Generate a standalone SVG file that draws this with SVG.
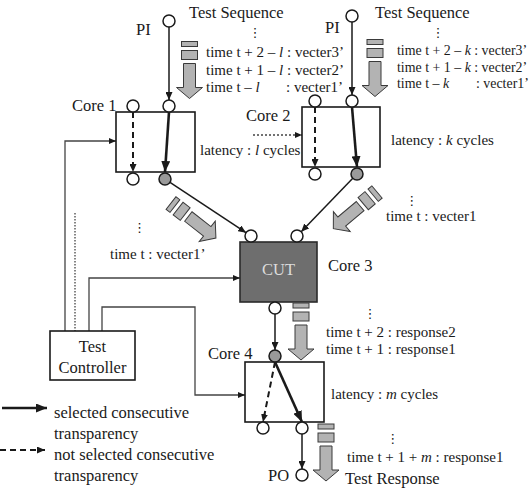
<svg xmlns="http://www.w3.org/2000/svg" xmlns:xlink="http://www.w3.org/1999/xlink" width="530" height="492" viewBox="0 0 530 492">
<style>
text{font-family:"Liberation Serif","Times New Roman",serif;fill:#1a1a1a}
.lb{font-size:16.5px}
.tm{font-size:15px}
.tm2{font-size:13.9px}
.dots{font-family:"DejaVu Sans",sans-serif;font-size:13px;text-anchor:middle}
.box{fill:#fff;stroke:#1a1a1a;stroke-width:1.6}
.port{fill:#fff;stroke:#1a1a1a;stroke-width:1.5}
.gport{fill:#9a9a9a;stroke:#1a1a1a;stroke-width:1.5}
.wire{fill:none;stroke:#1a1a1a;stroke-width:1.5}
.sel{fill:none;stroke:#1a1a1a;stroke-width:2.6}
.nsel{fill:none;stroke:#1a1a1a;stroke-width:2;stroke-dasharray:6 4}
.ctl{fill:none;stroke:#444;stroke-width:1.3}
.sa{fill:#b3b3b3;stroke:#3a3a3a;stroke-width:1}
</style>
<defs>
<marker id="ah" viewBox="0 0 8 7" refX="8" refY="3.5" markerWidth="8" markerHeight="7" markerUnits="userSpaceOnUse" orient="auto"><path d="M0,0 L8,3.5 L0,7 z" fill="#1a1a1a"/></marker>
<marker id="ahb" viewBox="0 0 11 9" refX="11" refY="4.5" markerWidth="11" markerHeight="9" markerUnits="userSpaceOnUse" orient="auto"><path d="M0,0 L11,4.5 L0,9 z" fill="#1a1a1a"/></marker>
<marker id="ahs" viewBox="0 0 7 6" refX="7" refY="3" markerWidth="7" markerHeight="6" markerUnits="userSpaceOnUse" orient="auto"><path d="M0,0 L7,3 L0,6 z" fill="#1a1a1a"/></marker>
<g id="sa">
<rect class="sa" x="-8" y="0" width="16" height="5"/>
<rect class="sa" x="-8" y="9" width="16" height="9"/>
<polygon class="sa" points="-6,22 6,22 6,46 13,46 0,57 -13,46 -6,46"/>
</g>
</defs>

<g id="connectors">
<line class="wire" x1="169" y1="27" x2="169" y2="100" marker-end="url(#ah)"/>
<line class="wire" x1="352" y1="22" x2="352" y2="95" marker-end="url(#ah)"/>
<line class="wire" x1="170" y1="182.3" x2="246" y2="232.7" marker-end="url(#ah)"/>
<line class="wire" x1="352.8" y1="178.3" x2="301.2" y2="231.7" marker-end="url(#ah)"/>
<line class="wire" x1="275" y1="314" x2="275" y2="350" marker-end="url(#ah)"/>
<line class="wire" x1="302" y1="434" x2="302" y2="469" marker-end="url(#ah)"/>
<polyline class="ctl" points="65,331 65,141 116,141" marker-end="url(#ahs)"/>
<line class="ctl" x1="75" y1="213" x2="75" y2="331" stroke-dasharray="1.5 1.5"/>
<polyline class="ctl" points="89,331 89,278 240,278" marker-end="url(#ahs)"/>
<polyline class="ctl" points="102,331 102,307 195,307 195,395 245,395" marker-end="url(#ahs)"/>
<line class="ctl" x1="253" y1="135" x2="302" y2="135" stroke-dasharray="2 2" marker-end="url(#ahs)"/>
</g>

<g id="pi1"><circle class="port" cx="169" cy="21" r="6"/><text class="lb" x="136" y="35">PI</text></g>
<g id="pi2"><circle class="port" cx="352" cy="16" r="6"/><text class="lb" x="325" y="33">PI</text></g>

<g id="core1">
<rect class="box" x="116" y="112" width="79" height="60"/>
<circle class="port" cx="133" cy="106" r="6"/>
<circle class="port" cx="169" cy="106" r="6"/>
<circle class="port" cx="133" cy="179" r="6"/>
<circle class="gport" cx="165" cy="179" r="6"/>
<line class="nsel" x1="133" y1="112" x2="133" y2="172" marker-end="url(#ah)"/>
<line class="sel" x1="169" y1="112" x2="165" y2="172" marker-end="url(#ahb)"/>
<text class="lb" x="72" y="111">Core 1</text>
<text class="tm" x="200" y="155">latency : <tspan font-style="italic">l</tspan> cycles</text>
</g>

<g id="core2">
<rect class="box" x="302" y="107" width="78" height="60"/>
<circle class="port" cx="315" cy="101" r="6"/>
<circle class="port" cx="352" cy="101" r="6"/>
<circle class="port" cx="315" cy="174" r="6"/>
<circle class="gport" cx="357" cy="174" r="6"/>
<line class="nsel" x1="315" y1="107" x2="315" y2="167" marker-end="url(#ah)"/>
<line class="sel" x1="352" y1="107" x2="357" y2="167" marker-end="url(#ahb)"/>
<text class="lb" x="246" y="121">Core 2</text>
<text class="tm" x="391" y="145">latency : <tspan font-style="italic">k</tspan> cycles</text>
</g>

<g id="cut">
<rect x="240" y="242" width="77" height="60" fill="#6e6e6e" stroke="#2a2a2a" stroke-width="1.6"/>
<circle class="port" cx="251" cy="236" r="6"/>
<circle class="port" cx="297" cy="236" r="6"/>
<circle class="port" cx="275" cy="308" r="6"/>
<text class="lb" x="278.5" y="275" text-anchor="middle" style="fill:#dcdcdc">CUT</text>
<text class="lb" x="328" y="271">Core 3</text>
</g>

<g id="core4">
<rect class="box" x="245" y="362" width="79" height="60"/>
<circle class="gport" cx="275" cy="356" r="6"/>
<circle class="port" cx="263" cy="428" r="6"/>
<circle class="port" cx="302" cy="428" r="6"/>
<line class="nsel" x1="275" y1="362" x2="263" y2="422" marker-end="url(#ah)"/>
<line class="sel" x1="275" y1="362" x2="302" y2="422" marker-end="url(#ahb)"/>
<text class="lb" x="208" y="359">Core 4</text>
<text class="tm" x="331" y="399">latency : <tspan font-style="italic">m</tspan> cycles</text>
</g>

<g id="po"><circle class="port" cx="302" cy="475" r="6"/><text class="lb" x="268" y="481">PO</text></g>

<g id="controller">
<rect class="box" x="50" y="331" width="85" height="49"/>
<text class="lb" x="92.5" y="352" text-anchor="middle">Test</text>
<text class="lb" x="92.5" y="373" text-anchor="middle">Controller</text>
</g>

<g id="seq1">
<text class="lb" x="189" y="18">Test Sequence</text>
<text class="dots" x="255" y="37">⋮</text>
<use xlink:href="#sa" href="#sa" transform="translate(189.5,41.5)"/>
<text class="tm" x="206" y="57">time t + 2 – <tspan font-style="italic">l</tspan> : vecter3’</text>
<text class="tm" x="206" y="74.5">time t + 1 – <tspan font-style="italic">l</tspan> : vecter2’</text>
<text class="tm" x="206" y="92">time t – <tspan font-style="italic">l</tspan></text>
<text class="tm" x="286" y="92">: vecter1’</text>
</g>

<g id="seq2">
<text class="lb" x="375" y="18">Test Sequence</text>
<text class="dots" x="438" y="37">⋮</text>
<use xlink:href="#sa" href="#sa" transform="translate(375,39.5)"/>
<text class="tm2" x="397" y="55">time t + 2 – <tspan font-style="italic">k</tspan> : vecter3’</text>
<text class="tm2" x="397" y="71.5">time t + 1 – <tspan font-style="italic">k</tspan> : vecter2’</text>
<text class="tm2" x="397" y="88">time t – <tspan font-style="italic">k</tspan></text>
<text class="tm2" x="476" y="88">: vecter1’</text>
</g>

<g id="flow1">
<use xlink:href="#sa" href="#sa" transform="translate(171,203) rotate(-52)"/>
<text class="dots" x="139.5" y="232">⋮</text>
<text class="tm" x="110" y="259">time t : vecter1’</text>
</g>

<g id="flow2">
<use xlink:href="#sa" href="#sa" transform="translate(377,192) rotate(50)"/>
<text class="dots" x="411.7" y="205">⋮</text>
<text class="tm" x="386" y="221">time t : vecter1</text>
</g>

<g id="flow3">
<use xlink:href="#sa" href="#sa" transform="translate(301,303)"/>
<text class="dots" x="370" y="318">⋮</text>
<text class="tm" x="326" y="337">time t + 2 : response2</text>
<text class="tm" x="326" y="354">time t + 1 : response1</text>
</g>

<g id="flow4">
<use xlink:href="#sa" href="#sa" transform="translate(326,424)"/>
<text class="dots" x="392.7" y="443">⋮</text>
<text class="tm" x="347" y="462">time t + 1 + <tspan font-style="italic">m</tspan> : response1</text>
<text class="lb" x="345" y="484">Test Response</text>
</g>

<g id="legend">
<line class="sel" x1="2" y1="408" x2="47" y2="408" stroke-width="3" marker-end="url(#ahb)"/>
<text class="lb" x="54" y="418">selected consecutive</text>
<text class="lb" x="54" y="439">transparency</text>
<line class="nsel" x1="0" y1="450" x2="45" y2="450" marker-end="url(#ah)"/>
<text class="lb" x="54" y="460">not selected consecutive</text>
<text class="lb" x="54" y="481">transparency</text>
</g>
</svg>
